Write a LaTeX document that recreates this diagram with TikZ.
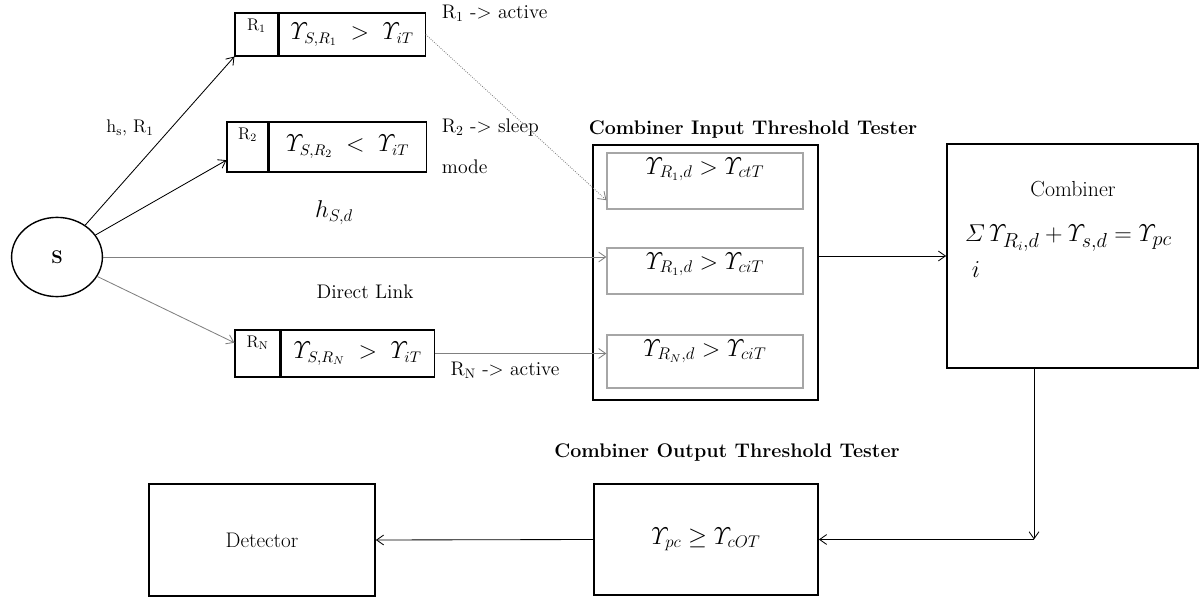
\documentclass[tikz,border=0pt]{standalone}
\usepackage{amsmath}
\usepackage{amssymb}
\usepackage{fontspec}
\usetikzlibrary{shapes.geometric,positioning,arrows.meta}

\begin{document}
\begin{tikzpicture}[x=0.025cm,y=-0.025cm,>={Straight Barb[length=5pt,width=7pt]},
    box/.style={draw,line width=1.2pt,rectangle,inner sep=0pt},
    cell/.style={draw,line width=0.8pt,rectangle,inner sep=0pt},
    inbox/.style={draw=gray!70,line width=0.8pt,rectangle,minimum width=4.9cm,inner sep=0pt},
    lbl/.style={font=\fontsize{14}{16}\selectfont},
    ttl/.style={font=\fontsize{14}{16}\selectfont\bfseries},
    cond/.style={font=\fontsize{16}{18}\selectfont},
    tcond/.style={font=\fontsize{17}{19}\selectfont},
    big/.style={font=\fontsize{18}{20}\selectfont},
    link/.style={->,line width=0.6pt}]

    \useasboundingbox (0,0) rectangle (1200,602);

    \node (src) [draw,line width=1pt,ellipse,minimum width=2.27cm,minimum height=1.98cm,font=\fontsize{13}{15}\selectfont\bfseries] at (57,257) {S};

    \node (r1a) [cell,minimum width=1.075cm,minimum height=1.075cm] at (256.5,34.5) {};
    \node (r1b) [cell,cond,minimum width=3.65cm,minimum height=1.075cm,right=0pt of r1a] {$\varUpsilon_{S,R_1} \;>\; \varUpsilon_{iT}$};
    \node (r1t) [font=\fontsize{12}{14}\selectfont,below=1pt of r1a.north] {R\textsubscript{1}};

    \node (r2a) [cell,minimum width=1.025cm,minimum height=1.25cm] at (247.5,147) {};
    \node (r2b) [cell,cond,minimum width=3.925cm,minimum height=1.25cm,right=0pt of r2a] {$\varUpsilon_{S,R_2} \;<\; \varUpsilon_{iT}$};
    \node (r2t) [font=\fontsize{12}{14}\selectfont,below=1pt of r2a.north] {R\textsubscript{2}};

    \node (rna) [cell,minimum width=1.125cm,minimum height=1.175cm] at (257.5,353.5) {};
    \node (rnb) [cell,cond,minimum width=3.825cm,minimum height=1.175cm,right=0pt of rna] {$\varUpsilon_{S,R_N} \;>\; \varUpsilon_{iT}$};
    \node (rnt) [font=\fontsize{12}{14}\selectfont,below=1pt of rna.north] {R\textsubscript{N}};

    \node (hsr) [font=\fontsize{13}{15}\selectfont] at (130,128) {h\textsubscript{s}, R\textsubscript{1}};
    \node (act1) [lbl,anchor=west] at (437,13) {R\textsubscript{1} -> active};
    \node (slp2) [lbl,anchor=west] at (437,128) {R\textsubscript{2} -> sleep};
    \node (mode2) [lbl,anchor=west] at (437,167) {mode};
    \node (hsd) [big] at (334,213) {$h_{S,d}$};
    \node (dlink) [lbl] at (365,292) {Direct Link};
    \node (actn) [lbl] at (505,370) {R\textsubscript{N} -> active};

    \node (itt) [box,minimum width=5.625cm,minimum height=6.375cm] at (705.5,272.5) {};
    \node (ittl) [ttl] at (753,130) {Combiner Input Threshold Tester};
    \node (in1) [inbox,minimum height=1.4cm] at (705,181) {};
    \node (in2) [inbox,minimum height=1.15cm] at (705,271) {};
    \node (in3) [inbox,minimum height=1.325cm] at (705,361.5) {};
    \node (in1t) [tcond,below=0pt of in1.north] {$\varUpsilon_{R_1,d} > \varUpsilon_{ctT}$};
    \node (in2t) [tcond,below=0pt of in2.north] {$\varUpsilon_{R_1,d} > \varUpsilon_{ciT}$};
    \node (in3t) [tcond,below=0pt of in3.north] {$\varUpsilon_{R_N,d} > \varUpsilon_{ciT}$};

    \node (comb) [box,minimum width=6.275cm,minimum height=5.6cm] at (1072.5,256) {};
    \node (combt) [font=\fontsize{15.5}{18}\selectfont] at (1073,189) {Combiner};
    \node (sumf) [font=\fontsize{19}{21}\selectfont,anchor=west] at (960,238) {$\varSigma\,\varUpsilon_{R_i,d}+\varUpsilon_{s,d}=\varUpsilon_{pc}$};
    \node (sumi) [font=\fontsize{19}{21}\selectfont] at (976,270) {$i$};

    \node (ott) [box,minimum width=5.6cm,minimum height=2.775cm,big] at (706,539.5) {$\varUpsilon_{pc} \geq \varUpsilon_{cOT}$};
    \node (ottl) [ttl] at (727,453) {Combiner Output Threshold Tester};
    \node (det) [box,minimum width=5.65cm,minimum height=2.8cm,font=\fontsize{15}{17}\selectfont] at (262,540) {Detector};
    \coordinate (bend) at (1034,539.5);

    \draw[link] (src) -- (r1a.south west);
    \draw[link] (src) -- (r2a.212);
    \draw[link,gray] (src) -- (rna.155);
    \draw[link,gray,densely dotted] (r1b.east) -- (in1.191);
    \draw[link,gray] (src.east) -- (src.east -| in2.west);
    \draw[link,gray] (rnb.east) -- (rnb.east -| in3.west);
    \draw[link] (itt.east |- comb.west) -- (comb.west);
    \draw[link] (comb.south -| bend) -- (bend);
    \draw[link] (bend) -- (ott.east);
    \draw[link] (ott.west) -- (det.east);
\end{tikzpicture}
\end{document}
